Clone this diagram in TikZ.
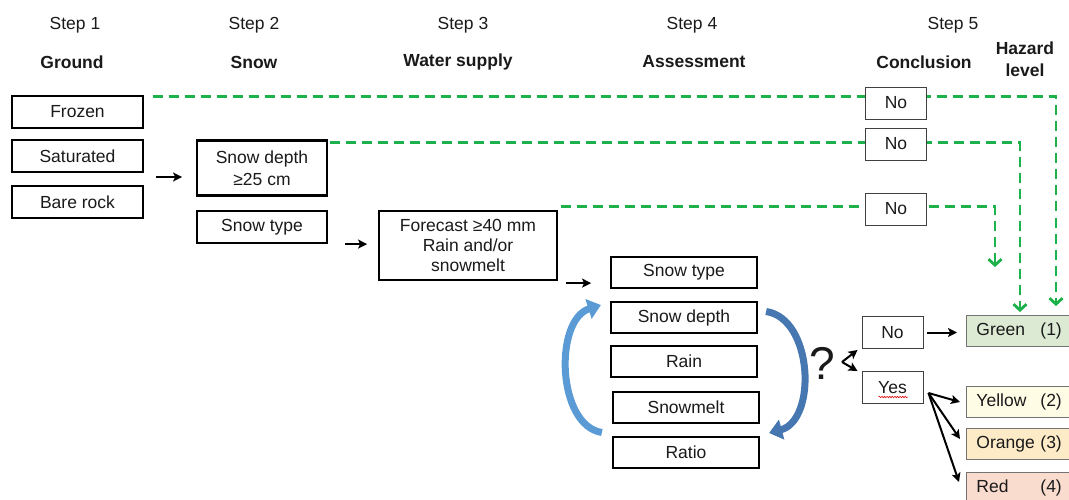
\documentclass[tikz,border=0pt]{standalone}
\usepackage{fontspec}
\setmainfont{Liberation Sans}
\usetikzlibrary{arrows.meta,calc,decorations.pathmorphing}
\definecolor{gline}{HTML}{1DB14B}
\definecolor{hgreen}{HTML}{DCEAD3}
\definecolor{hyellow}{HTML}{FFFCE6}
\definecolor{horange}{HTML}{FDEBC8}
\definecolor{hred}{HTML}{F9DCCD}
\definecolor{bluel}{HTML}{5B9BD5}
\definecolor{blued}{HTML}{4677B0}
\definecolor{txt}{HTML}{1A1A1A}
\begin{document}
\begin{tikzpicture}[x=1pt,y=-1pt,
  font=\fontsize{17.5}{21.5}\selectfont, text=txt,
  hdr/.style={font=\fontsize{17.5}{22}\selectfont\bfseries, align=center},
  stepbox/.style={draw=black, line width=2.2pt, fill=white, minimum height=32pt, inner sep=0pt, align=center},
  abox/.style={stepbox, minimum width=146pt, minimum height=31pt},
  concbox/.style={draw=black!75, line width=0.9pt, fill=white, minimum width=61pt, minimum height=32pt, inner sep=0pt},
  hzbox/.style={draw=black!55, line width=0.9pt, text width=100pt, inner xsep=10pt, minimum height=31pt, align=left, anchor=west},
  gdash/.style={draw=gline, line width=2.8pt, dash pattern=on 10pt off 6pt, -{Straight Barb[length=6pt,width=13pt]}},
  arr/.style={draw=black, line width=2pt, -{Stealth[length=9pt,width=9pt,inset=2pt]}},
  bluearr/.style={line width=7pt, -{Triangle[length=13pt,width=20pt]}}
]
\useasboundingbox (0,0) rectangle (1069,500);
\clip (0,0) rectangle (1069,500);

% headers
\node (st1) at (75,25) {Step 1};
\node[hdr] (hd1) at (72,62) {Ground};
\node (st2) at (254,25) {Step 2};
\node[hdr] (hd2) at (254,62) {Snow};
\node (st3) at (463,25) {Step 3};
\node[hdr] (hd3) at (458,62) {Water supply};
\node (st4) at (692,25) {Step 4};
\node[hdr] (hd4) at (694,62) {Assessment};
\node (st5) at (953,25) {Step 5};
\node[hdr] (hd5) at (924,62) {Conclusion};
\node[hdr] (hd6) at (1025,59) {Hazard\\level};

% step boxes
\node[stepbox, minimum width=131pt] (frozen) at (77.5,112) {Frozen};
\node[stepbox, minimum width=131pt] (sat) at (77.5,156) {Saturated};
\node[stepbox, minimum width=131pt] (bare) at (77.5,202) {Bare rock};
\node[stepbox, minimum width=130pt, minimum height=55pt] (sdepth) at (262,168) {Snow depth\\≥25 cm};
\node[stepbox, minimum width=130pt] (stype) at (262,227) {Snow type};
\node[stepbox, minimum width=178pt, minimum height=69pt, font=\fontsize{17.5}{20}\selectfont] (fc) at (468,245.5) {Forecast ≥40 mm\\Rain and/or\\snowmelt};

% assessment
\node[abox] (a1) at (684,272.5) {Snow type};
\node[abox] (a2) at (684,317.5) {Snow depth};
\node[abox] (a3) at (684,361.5) {Rain};
\node[abox] (a4) at (686,407.5) {Snowmelt};
\node[abox] (a5) at (686,452.5) {Ratio};

% hazard boxes
\node[hzbox, fill=hgreen] (green) at (966,331) {\makebox[64pt][l]{Green}(1)};
\node[hzbox, fill=hyellow] (yellow) at (966,402) {\makebox[64pt][l]{Yellow}(2)};
\node[hzbox, fill=horange] (orange) at (966,443.5) {\makebox[64pt][l]{Orange}(3)};
\node[hzbox, fill=hred] (red) at (966,488) {\makebox[64pt][l]{Red}(4)};

% green dashed "No" paths
\draw[gdash] ([shift={(8.5,2)}]frozen.north east) -| ([shift={(90,-9)}]green.north west);
\draw[gdash] ([shift={(2,3.5)}]sdepth.north east) -| ([shift={(54,-3)}]green.north west);
\draw[gdash] ([shift={(3,-3)}]fc.north east) -| ([shift={(29,-48)}]green.north west);

% conclusion boxes
\node[concbox] (no1) at (896,103) {No};
\node[concbox] (no2) at (896,144) {No};
\node[concbox] (no3) at (896,209) {No};
\node[concbox] (no4) at (892.5,332.5) {No};
\node[concbox] (yes) at (892.5,387.5) {Yes};
\draw[red!85!black, line width=0.6pt, decorate, decoration={snake,amplitude=0.7pt,segment length=2.6pt}]
  ([shift={(-14,9.5)}]yes.center) -- ([shift={(15,9.5)}]yes.center);

% question mark
\node[font=\fontsize{46}{46}\selectfont] (q) at (822,363) {?};
\coordinate (qa) at ([shift={(20,-1)}]q.center);

% black arrows
\draw[arr] ($(sat.east)!0.5!(bare.east)+(12,-2)$) -- ++(26,0);
\draw[arr] ([xshift=17]stype.south east) -- ++(22,0);
\draw[arr] ([shift={(8,2)}]fc.south east) -- ++(25,0);
\draw[arr] ([xshift=4]no4.east) -- ([xshift=-9]green.west |- no4.east);
\draw[arr] (qa) -- ([shift={(-4,1)}]no4.south west);
\draw[arr] (qa) -- ([xshift=-4]yes.north west);
\draw[arr] ([shift={(5,5.5)}]yes.east) -- ([xshift=-6]yellow.west);
\draw[arr] ([shift={(5,5.5)}]yes.east) -- ([shift={(-6,-4.5)}]orange.west);
\draw[arr] ([shift={(5,5.5)}]yes.east) -- ([shift={(-7,-6)}]red.west);

% blue cycle arrows
\draw[bluearr, draw=bluel] ([shift={(-10,-20)}]a5.west) .. controls +(-45,-7) and +(-47,15) .. ([shift={(-9,-12.5)}]a2.west);
\draw[bluearr, draw=blued] ([shift={(8,-6)}]a2.east) .. controls +(47,7) and +(48,-13) .. ([shift={(9,-19.5)}]a5.east);
\end{tikzpicture}
\end{document}
